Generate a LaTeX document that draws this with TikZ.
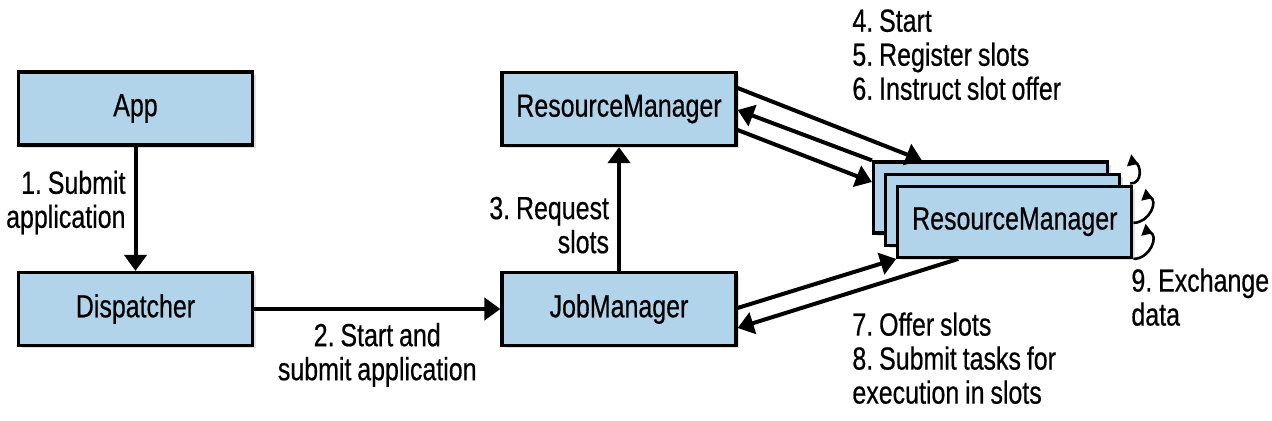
\documentclass[tikz,border=0pt]{standalone}
\usepackage{fontspec}
\setmainfont{Liberation Sans}[FakeStretch=0.78,FakeBold=0.5,WordSpace=0.85]
\frenchspacing
\usetikzlibrary{arrows.meta,shadows}
\definecolor{boxblue}{RGB}{178,212,234}
\tikzset{
  box/.style={draw,line width=1.6pt,fill=boxblue,minimum width=117pt,minimum height=36.5pt,
    drop shadow={shadow xshift=1.5pt,shadow yshift=-1.5pt,opacity=0.25}},
  stackbox/.style={box,minimum height=35.5pt},
  flow/.style={-{Triangle[length=8pt,width=11pt]},line width=2pt},
  selfloop/.style={{Triangle[reversed,length=5pt,width=6pt]}-,line width=1.3pt},
  lbl/.style={inner sep=0pt},
  note/.style={align=left,inner sep=0pt,anchor=north west},
}
\begin{document}
\begin{tikzpicture}[x=0.5pt,y=-0.5pt,font=\fontsize{16}{17}\selectfont]
    \useasboundingbox (0,0) rectangle (1272,421);

    \node[box] (app) at (135.5,108.5) {App};
    \node[box] (disp) [below of=app,node distance=100.25pt] {Dispatcher};
    \node[box] (jm) [right of=disp,node distance=241.75pt] {JobManager};
    \node[box] (rm) [above of=jm,node distance=100pt] {ResourceManager};

    \node[stackbox] (tm1) at (990.5,197.5) {};
    \node[stackbox] (tm2) [below right of=tm1,node distance=8.6pt] {};
    \node[stackbox] (tm3) [below right of=tm2,node distance=8.6pt] {ResourceManager};

    \draw[flow] (app) -- node[lbl,pos=0.45,left=4pt,align=right] {1. Submit\\application} (disp);
    \draw[flow] (disp) -- node[lbl,midway,below=6pt,align=center] {2. Start and\\submit application} (jm);
    \draw[flow] (jm) -- node[lbl,pos=0.37,left=4pt,align=right] {3. Request\\slots} (rm);

    \draw[flow] ([yshift=10.5pt]rm.east) -- ([xshift=25pt]tm1.north west);
    \draw[flow] (tm1.north west) -- ([yshift=-0.5pt]rm.east);
    \draw[flow] ([yshift=-10.5pt]rm.east) -- ([yshift=7.75pt]tm1.west);

    \draw[flow] ([yshift=0.5pt]jm.east) -- (tm3.south west);
    \draw[flow] ([xshift=31pt]tm3.south west) -- ([yshift=-9.5pt]jm.east);

    \draw[selfloop] ([xshift=10pt]tm1.north east) to[out=-20,in=0,looseness=1.4] ([xshift=4.5pt,yshift=-5.5pt]tm2.north east);
    \draw[selfloop] ([xshift=5pt,yshift=-5pt]tm3.north east) to[out=-20,in=0,looseness=1.4] ([yshift=-0.5pt]tm3.east);
    \draw[selfloop] ([xshift=5pt,yshift=-4pt]tm3.east) to[out=-20,in=0,looseness=1.4] (tm3.south east);

    \node[note] (steps46) at (852,9) {4. Start\\5. Register slots\\6. Instruct slot offer};
    \node[note] (steps78) at (852,312) {7. Offer slots\\8. Submit tasks for\\execution in slots};
    \node[note] (step9) at (1131,268) {9. Exchange\\data};
\end{tikzpicture}
\end{document}
